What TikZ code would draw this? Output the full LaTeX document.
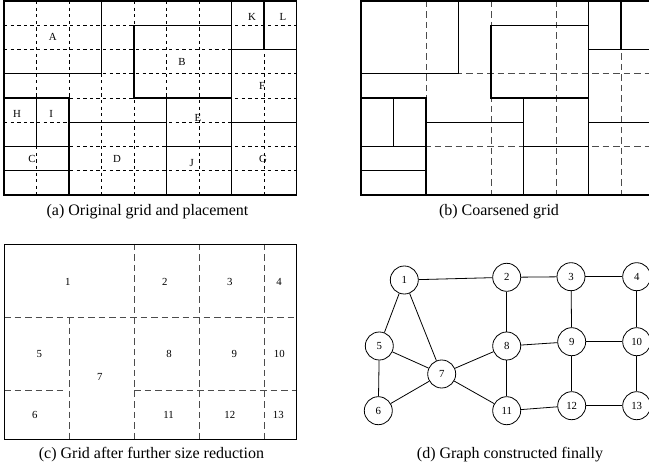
\documentclass[tikz,border=0pt]{standalone}
\usepackage{fontspec}
\setmainfont{Liberation Serif}
\begin{document}
\begin{tikzpicture}[x=1pt,y=-1pt,
  blk/.style={line width=1.3pt},
  fine/.style={line width=0.8pt,dash pattern=on 3.3pt off 3.3pt},
  coarse/.style={line width=0.9pt,black!70,dash pattern=on 6.5pt off 4pt},
  lbl/.style={font=\fontsize{10.8}{12}\selectfont,inner sep=0pt},
  captxt/.style={font=\fontsize{16}{18}\selectfont,inner sep=0pt},
  vtx/.style={circle,draw,line width=0.8pt,minimum size=28pt,inner sep=0pt,font=\fontsize{10.8}{12}\selectfont},
  edgeline/.style={line width=0.8pt}]
\useasboundingbox (0,0) rectangle (649,470);
% ---------- (a) ----------
\begin{scope}[shift={(4pt,-1pt)},x=32.5pt,y=-24.25pt]
  \foreach \i in {1,...,8} \draw[fine] (\i,0) -- (\i,8);
  \foreach \j in {1,...,7} \draw[fine] (0,\j) -- (9,\j);
  \foreach \a/\b/\c/\d in {0/0/3/3, 4/1/7/4, 7/0/8/2, 8/0/9/2, 7/2/9/5, 7/5/9/8,
     5/4/7/6, 5/6/7/8, 2/5/5/8, 0/4/1/6, 1/4/2/6, 0/6/2/7, 0/7/2/8, 0/0/9/8}
    \draw[blk] (\a,\b) rectangle (\c,\d);
  \node[lbl] (la) at (1.5,1.5) {A};
  \node[lbl] (lb) at (5.48,2.5) {B};
  \node[lbl] (lk) at (7.63,0.66) {K};
  \node[lbl] (ll) at (8.58,0.66) {L};
  \node[lbl] (lf) at (7.94,3.5) {F};
  \node[lbl] (le) at (5.97,4.82) {E};
  \node[lbl] (lh) at (0.4,4.66) {H};
  \node[lbl] (li) at (1.45,4.66) {I};
  \node[lbl] (lc) at (0.86,6.5) {C};
  \node[lbl] (ld) at (3.48,6.5) {D};
  \node[lbl] (lj) at (5.78,6.68) {J};
  \node[lbl] (lg) at (7.97,6.5) {G};
\end{scope}
\node[captxt] (capa) at (147.5,212) {(a) Original grid and placement};
% ---------- (b) ----------
\begin{scope}[shift={(361pt,-1pt)},x=32.5pt,y=-24.25pt]
  \foreach \i in {2,4,6,8} \draw[coarse] (\i,0) -- (\i,8);
  \foreach \j in {3,6} \draw[coarse] (0,\j) -- (9,\j);
  \foreach \a/\b/\c/\d in {0/0/3/3, 4/1/7/4, 7/0/8/2, 8/0/9/2, 7/2/9/5, 7/5/9/8,
     5/4/7/6, 5/6/7/8, 2/5/5/8, 0/4/1/6, 1/4/2/6, 0/6/2/7, 0/7/2/8, 0/0/9/8}
    \draw[blk] (\a,\b) rectangle (\c,\d);
\end{scope}
\node[captxt] (capb) at (499,212) {(b) Coarsened grid};
% ---------- (c) ----------
\begin{scope}[shift={(4pt,-244pt)},x=32.5pt,y=-24.375pt]
  \foreach \i in {4,6,8} \draw[coarse] (\i,0) -- (\i,8);
  \draw[coarse] (2,3) -- (2,8);
  \draw[coarse] (0,3) -- (9,3);
  \draw[coarse] (0,6) -- (1.85,6);
  \draw[coarse] (4,6) -- (9,6);
  \draw[line width=0.9pt] (0,0) rectangle (9,8);
  \node[lbl] (n1) at (1.96,1.55) {1};
  \node[lbl] (n2) at (4.95,1.55) {2};
  \node[lbl] (n3) at (6.95,1.55) {3};
  \node[lbl] (n4) at (8.46,1.55) {4};
  \node[lbl] (n5) at (1.09,4.5) {5};
  \node[lbl] (n7) at (2.95,5.47) {7};
  \node[lbl] (n8) at (5.08,4.5) {8};
  \node[lbl] (n9) at (7.09,4.5) {9};
  \node[lbl] (n10) at (8.47,4.5) {10};
  \node[lbl] (n6) at (0.95,7.0) {6};
  \node[lbl] (n11) at (5.06,7.0) {11};
  \node[lbl] (n12) at (6.95,7.0) {12};
  \node[lbl] (n13) at (8.44,7.0) {13};
\end{scope}
\node[captxt] (capc) at (151.5,455) {(c) Grid after further size reduction};
% ---------- (d) ----------
\node[vtx] (v1) at (404.3,280) {1};
\node[vtx] (v2) at (506.7,277.3) {2};
\node[vtx] (v3) at (571,276.7) {3};
\node[vtx] (v4) at (636.7,276.7) {4};
\node[vtx] (v5) at (379.3,346) {5};
\node[vtx] (v6) at (378.3,410.7) {6};
\node[vtx] (v7) at (441.7,374) {7};
\node[vtx] (v8) at (506.7,346) {8};
\node[vtx] (v9) at (571.7,341.7) {9};
\node[vtx] (v10) at (636.7,341.7) {10};
\node[vtx] (v11) at (506.7,410.7) {11};
\node[vtx] (v12) at (571.7,405.7) {12};
\node[vtx] (v13) at (636.7,405.7) {13};
\foreach \p/\q in {v1/v2, v2/v3, v3/v4, v1/v5, v1/v7, v2/v8, v3/v9, v4/v10, v5/v7, v5/v6,
   v6/v7, v7/v8, v7/v11, v8/v9, v9/v10, v8/v11, v9/v12, v10/v13, v11/v12, v12/v13}
  \draw[edgeline] (\p) -- (\q);
\node[captxt] (capd) at (510,455) {(d) Graph constructed finally};
\end{tikzpicture}
\end{document}
